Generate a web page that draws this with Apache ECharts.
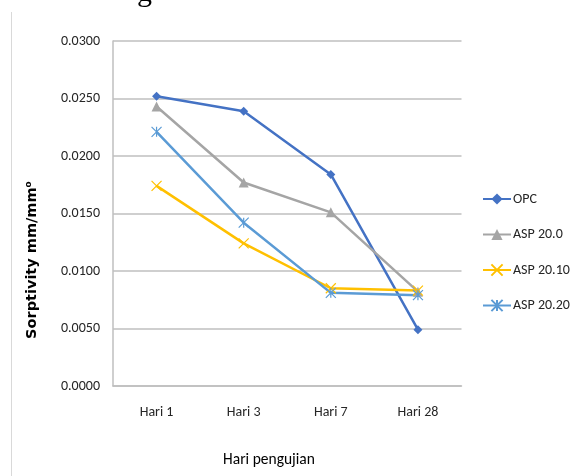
<!DOCTYPE html>
<html>
<head>
<meta charset="utf-8">
<script src="https://cdn.jsdelivr.net/npm/echarts@6/dist/echarts.min.js"></script>
<style>
  html, body { margin: 0; padding: 0; background: #ffffff; }
  #chart { width: 572px; height: 476px; }
</style>
</head>
<body>
<div id="chart"></div>
<script>
// Sorptivity per testing day for each mix
const categories = ['Hari 1', 'Hari 3', 'Hari 7', 'Hari 28'];
const opc     = [0.0252, 0.0239, 0.0184, 0.0049];
const asp200  = [0.0243, 0.0177, 0.0151, 0.0082];
const asp2010 = [0.0174, 0.0124, 0.0085, 0.0083];
const asp2020 = [0.0221, 0.0142, 0.0081, 0.0079];
const seriesNames = ['OPC', 'ASP 20.0', 'ASP 20.10', 'ASP 20.20'];
const yTicks = { min: 0, max: 0.03, step: 0.005 };

const FONT = 'Carlito, "Liberation Sans", sans-serif';
const crossPath = 'path://M0,0L10,10M10,0L0,10';
const starPath = 'path://M0,0L10,10M10,0L0,10M5,0L5,10';

function lineSeries(name, data, color, symbol, size, strokeMarker) {
  return {
    name: name,
    type: 'line',
    data: data,
    symbol: symbol,
    symbolSize: size,
    showAllSymbol: true,
    lineStyle: { color: color, width: 2.5 },
    itemStyle: strokeMarker
      ? { color: 'rgba(0,0,0,0)', borderColor: color, borderWidth: 1.2 }
      : { color: color, borderColor: color, borderWidth: 0 },
    emphasis: { disabled: true },
    animation: false
  };
}

const chart = echarts.init(document.getElementById('chart'), null, { renderer: 'canvas' });
chart.setOption({
  backgroundColor: '#ffffff',
  animation: false,
  grid: { left: 113, right: 110.5, top: 41, bottom: 90, containLabel: false },
  legend: {
    orient: 'vertical',
    left: 477,
    top: 187,
    itemWidth: 28,
    itemHeight: 14,
    itemGap: 21.5,
    textStyle: { fontFamily: FONT, fontSize: 14, color: '#262626', padding: [0, 0, 0, -3] },
    data: seriesNames
  },
  xAxis: {
    type: 'category',
    data: categories,
    boundaryGap: true,
    axisLine: { lineStyle: { color: '#bfbfbf', width: 1.5 } },
    axisTick: { show: false },
    axisLabel: { fontFamily: FONT, fontSize: 14, color: '#262626', margin: 19 }
  },
  yAxis: {
    type: 'value',
    min: yTicks.min,
    max: yTicks.max,
    interval: yTicks.step,
    axisLine: { show: true, lineStyle: { color: '#bfbfbf', width: 1.5 } },
    axisTick: { show: false },
    splitLine: { lineStyle: { color: '#bfbfbf', width: 1.5 } },
    axisLabel: {
      fontFamily: FONT, fontSize: 14, color: '#262626', margin: 13,
      formatter: v => v.toFixed(4)
    }
  },
  graphic: [
    { type: 'line', shape: { x1: 11.5, y1: 12, x2: 11.5, y2: 476 },
      style: { stroke: '#d9d9d9', lineWidth: 1 }, silent: true },
    { type: 'text', left: 137, top: -22,
      style: { text: 'g', font: '30px "Liberation Serif", serif', fill: '#000000' }, silent: true },
    { type: 'text', x: 32, y: 260, rotation: Math.PI / 2,
      style: { text: 'Sorptivity mm/mm⁰', font: 'bold 14.5px "DejaVu Sans", sans-serif',
               fill: '#000000', align: 'center', verticalAlign: 'middle' }, silent: true },
    { type: 'text', x: 269, y: 460,
      style: { text: 'Hari pengujian', font: '15.5px ' + FONT,
               fill: '#000000', align: 'center', verticalAlign: 'middle' }, silent: true }
  ],
  series: [
    lineSeries(seriesNames[0], opc, '#4472c4', 'diamond', 9, false),
    lineSeries(seriesNames[1], asp200, '#a5a5a5', 'triangle', 10, false),
    lineSeries(seriesNames[2], asp2010, '#ffc000', crossPath, 10, true),
    lineSeries(seriesNames[3], asp2020, '#5b9bd5', starPath, 10, true)
  ]
});
</script>
</body>
</html>
